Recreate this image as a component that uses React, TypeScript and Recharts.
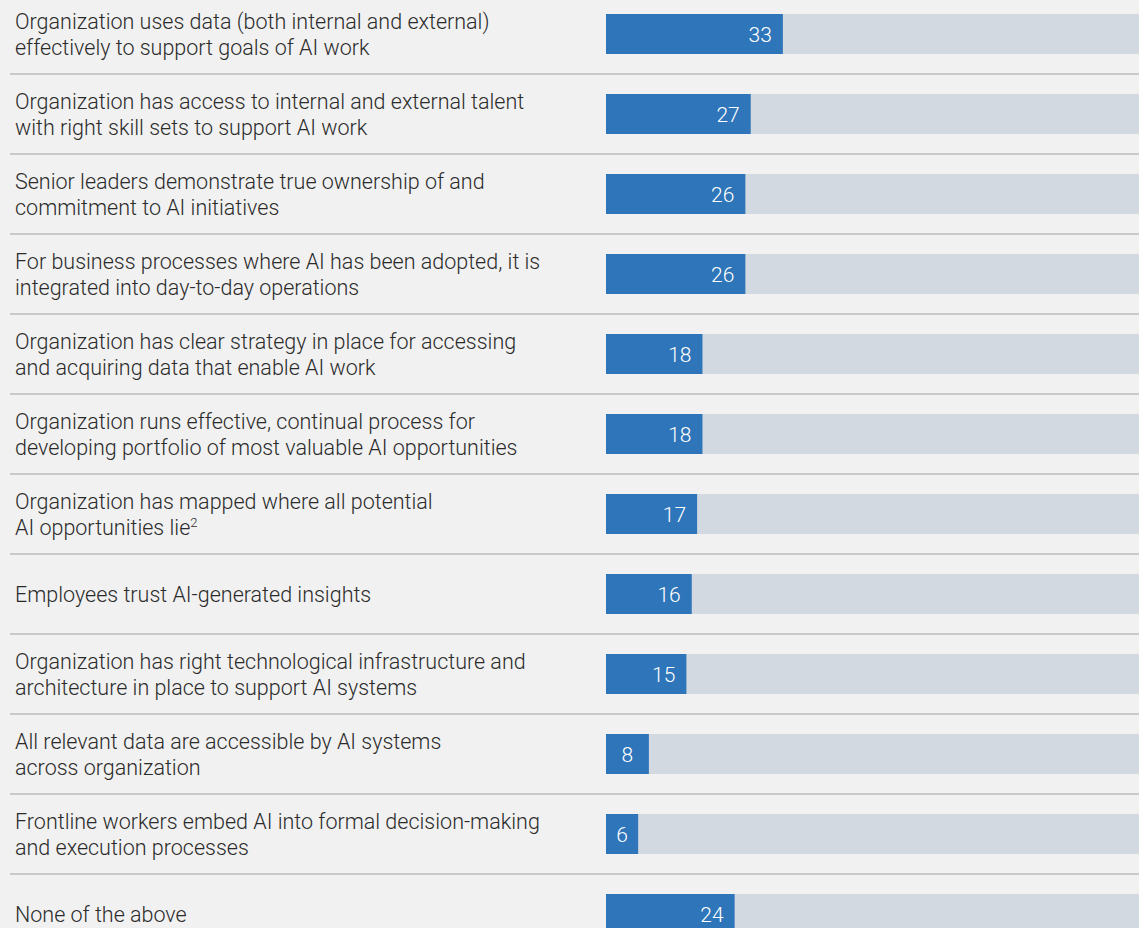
import { BarChart, Bar, XAxis, YAxis, LabelList } from "recharts";

// Rows from top to bottom; "\n" marks the line break of each label
const CATEGORIES = [
  "Organization uses data (both internal and external)\neffectively to support goals of AI work",
  "Organization has access to internal and external talent\nwith right skill sets to support AI work",
  "Senior leaders demonstrate true ownership of and\ncommitment to AI initiatives",
  "For business processes where AI has been adopted, it is\nintegrated into day-to-day operations",
  "Organization has clear strategy in place for accessing\nand acquiring data that enable AI work",
  "Organization runs effective, continual process for\ndeveloping portfolio of most valuable AI opportunities",
  "Organization has mapped where all potential\nAI opportunities lie²",
  "Employees trust AI-generated insights",
  "Organization has right technological infrastructure and\narchitecture in place to support AI systems",
  "All relevant data are accessible by AI systems\nacross organization",
  "Frontline workers embed AI into formal decision-making\nand execution processes",
  "None of the above",
];

const VALUES = [33, 27, 26, 26, 18, 18, 17, 16, 15, 8, 6, 24];

const data = CATEGORIES.map((label, i) => ({ label, value: VALUES[i] }));

const FONT = "Roboto, 'Liberation Sans', Arial, sans-serif";
const WEIGHT = 300;
const TEXT = "#2b2b2b";
const BLUE = "#2e75b9";
const TRACK = "#d3d9e0";
const RULE = "#c9c9c9";

// splits off a trailing footnote marker so it can be drawn raised
function renderLine(line: string) {
  const m = line.match(/^(.*?)([²³¹])$/);
  if (!m) return line;
  const sup = { "¹": "1", "²": "2", "³": "3" }[m[2]];
  return (
    <>
      {m[1]}
      <tspan fontSize={13} dy={-8}>
        {sup}
      </tspan>
    </>
  );
}

function RowLabel(props: any) {
  const { y, payload, index } = props;
  const lines: string[] = String(payload.value).split("\n");
  const lineH = 26;
  const first = y + 7.5 - ((lines.length - 1) * lineH) / 2;
  return (
    <g>
      {lines.map((line, i) => (
        <text
          key={i}
          x={15}
          y={first + i * lineH}
          fill={TEXT}
          fontSize={21.5}
          fontWeight={WEIGHT}
          fontFamily={FONT}
          textAnchor="start"
        >
          {renderLine(line)}
        </text>
      ))}
      {index < CATEGORIES.length - 1 && (
        <line x1={10} x2={1139} y1={y + 40} y2={y + 40} stroke={RULE} strokeWidth={1.8} />
      )}
    </g>
  );
}

function ValueLabel(props: any) {
  const { x, y, width, height, value } = props;
  const small = width < 50;
  return (
    <text
      x={small ? x + width / 2 : x + width - 11}
      y={y + height / 2 + 7.5}
      fill="#ffffff"
      fontSize={21}
      fontWeight={WEIGHT}
      fontFamily={FONT}
      textAnchor={small ? "middle" : "end"}
    >
      {value}
    </text>
  );
}

export default function App() {
  return (
    <div
      style={{
        position: "absolute",
        left: 0,
        top: 0,
        width: 1139,
        height: 928,
        overflow: "hidden",
        background: "#f1f1f1",
      }}
    >
      <div style={{ position: "relative", top: -6 }}>
        <BarChart
          width={1142}
          height={960}
          data={data}
          layout="vertical"
          margin={{ top: 0, right: 0, bottom: 0, left: 0 }}
        >
          <XAxis type="number" domain={[0, 100]} hide />
          <YAxis
            type="category"
            dataKey="label"
            width={606}
            axisLine={false}
            tickLine={false}
            interval={0}
            tick={<RowLabel />}
          />
          <Bar
            dataKey="value"
            fill={BLUE}
            barSize={40}
            background={{ fill: TRACK }}
            isAnimationActive={false}
          >
            <LabelList dataKey="value" content={<ValueLabel />} />
          </Bar>
        </BarChart>
      </div>
    </div>
  );
}
